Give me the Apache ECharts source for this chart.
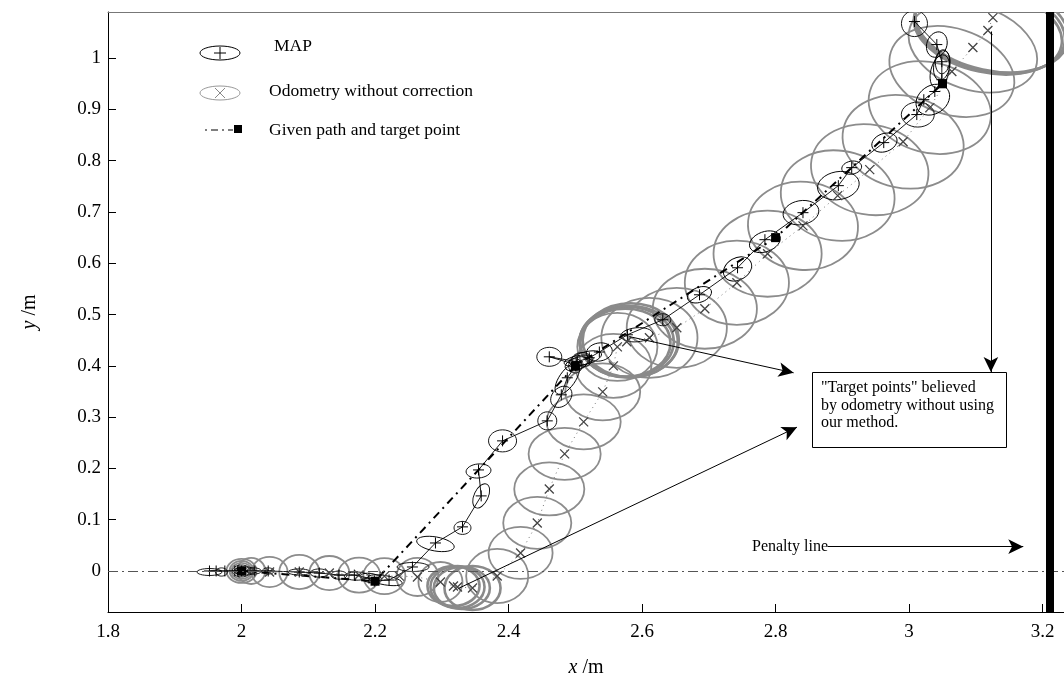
<!DOCTYPE html>
<html>
<head>
<meta charset="utf-8">
<script src="https://cdn.jsdelivr.net/npm/echarts@6/dist/echarts.min.js"></script>
<style>
  html, body { margin: 0; padding: 0; background: #fff; }
  #chart { width: 1064px; height: 684px; }
</style>
</head>
<body>
<div id="chart"></div>
<script>
// ---------------- data ----------------
var xTicks = [1.8, 2, 2.2, 2.4, 2.6, 2.8, 3, 3.2];
var yTicks = [0, 0.1, 0.2, 0.3, 0.4, 0.5, 0.6, 0.7, 0.8, 0.9, 1];

// MAP estimate (x, y)
var mapPath = [
  [1.952, 0], [1.962, 0], [1.975, 0], [1.99, 0], [2.0, 0], [2.019, 0], [2.04, 0],
  [2.0865, -0.002], [2.1165, -0.004], [2.146, -0.008], [2.169, -0.008], [2.191, -0.014],
  [2.199, -0.0195], [2.221, -0.0176], [2.256, 0.0078], [2.2905, 0.0546], [2.331, 0.086],
  [2.359, 0.1464], [2.355, 0.197], [2.391, 0.2537], [2.458, 0.2927], [2.479, 0.3435],
  [2.488, 0.3767], [2.502, 0.402], [2.461, 0.4176], [2.503, 0.408], [2.521, 0.4157],
  [2.536, 0.427], [2.578, 0.4606], [2.631, 0.4899], [2.686, 0.5386], [2.743, 0.5913],
  [2.784, 0.646], [2.841, 0.6987], [2.894, 0.7514], [2.914, 0.7865], [2.962, 0.8353],
  [3.0115, 0.89], [3.022, 0.919], [3.0385, 0.935], [3.049, 0.958], [3.049, 0.993],
  [3.0415, 1.0265], [3.008, 1.0714]
];

// MAP covariance ellipses: cx, cy, semi-axis x (m), semi-axis y (m), angle (deg)
var mapEllipses = [
  [1.952, -0.002, 0.0187, 0.0068, 0], [1.97, -0.002, 0.009, 0.008, 0],
  [2.0, 0, 0.0135, 0.0117, 0], [2.0, 0, 0.009, 0.008, 0], [2.005, 0, 0.0165, 0.008, 0],
  [2.019, 0, 0.0105, 0.006, 0], [2.04, 0, 0.009, 0.006, 0], [2.0865, -0.002, 0.0165, 0.006, 0],
  [2.1165, -0.004, 0.0135, 0.008, 0], [2.146, -0.008, 0.012, 0.008, 0], [2.172, -0.01, 0.018, 0.008, 0],
  [2.194, -0.014, 0.0165, 0.009, -10], [2.215, -0.018, 0.026, 0.009, -10],
  [2.257, 0.0078, 0.024, 0.0088, 0], [2.2905, 0.0527, 0.0285, 0.0137, -10],
  [2.331, 0.084, 0.0127, 0.0127, 0], [2.359, 0.1464, 0.0195, 0.0137, 65],
  [2.355, 0.195, 0.0187, 0.0137, 5], [2.391, 0.2537, 0.021, 0.0215, 0],
  [2.458, 0.2927, 0.0142, 0.0176, 0], [2.479, 0.3396, 0.018, 0.0176, 45],
  [2.488, 0.3747, 0.027, 0.0156, 55], [2.461, 0.4176, 0.0187, 0.0185, 0],
  [2.502, 0.404, 0.018, 0.012, 20], [2.505, 0.41, 0.022, 0.01, 10], [2.51, 0.412, 0.015, 0.014, 0],
  [2.515, 0.415, 0.025, 0.012, 15], [2.5, 0.4, 0.01, 0.014, 0],
  [2.536, 0.427, 0.0195, 0.0176, 10], [2.592, 0.4606, 0.024, 0.0137, 5],
  [2.631, 0.4899, 0.012, 0.0117, 0], [2.686, 0.5386, 0.0187, 0.0146, 20],
  [2.743, 0.589, 0.0225, 0.0215, 30], [2.784, 0.642, 0.024, 0.0195, 20],
  [2.838, 0.6987, 0.027, 0.0234, 10], [2.894, 0.7514, 0.0315, 0.0273, 10],
  [2.914, 0.7865, 0.015, 0.0127, 10], [2.963, 0.8353, 0.0195, 0.0176, 20],
  [3.013, 0.89, 0.0247, 0.0244, 0], [3.0355, 0.919, 0.027, 0.0273, 35],
  [3.046, 0.974, 0.0255, 0.0176, 75], [3.049, 0.9856, 0.0225, 0.0156, 80],
  [3.05, 0.993, 0.018, 0.0137, 85], [3.0415, 1.0265, 0.0195, 0.0195, 70],
  [3.008, 1.0675, 0.0195, 0.0254, 0]
];

// odometry without correction (x, y)
var odoPath = [
  [2.0, 0], [2.0145, 0], [2.042, -0.002], [2.0865, -0.002], [2.1315, -0.004], [2.176, -0.008],
  [2.214, -0.01], [2.2365, -0.01], [2.2635, -0.0117], [2.298, -0.0215], [2.3175, -0.0293],
  [2.3235, -0.0312], [2.346, -0.0332], [2.383, -0.0098], [2.418, 0.0351], [2.443, 0.0937],
  [2.461, 0.16], [2.484, 0.2283], [2.5125, 0.2908], [2.541, 0.3493], [2.557, 0.4],
  [2.563, 0.437], [2.577, 0.447], [2.611, 0.4547], [2.652, 0.4742], [2.694, 0.5113],
  [2.742, 0.562], [2.788, 0.6187], [2.841, 0.673], [2.893, 0.732], [2.941, 0.7826],
  [2.991, 0.837], [3.031, 0.9036], [3.064, 0.974], [3.0955, 1.0207], [3.118, 1.054],
  [3.1255, 1.079]
];

// odometry covariance ellipses: cx, cy, semi-axis x (m), semi-axis y (m), angle (deg)
var odoEllipses = [
  [2.0, 0, 0.0225, 0.0234, 0], [2.0, 0, 0.018, 0.0195, 0], [2.0, 0, 0.015, 0.0156, 0],
  [2.0145, 0, 0.021, 0.0254, 0], [2.042, -0.002, 0.027, 0.0293, 0], [2.0865, -0.002, 0.03, 0.0332, 0],
  [2.1315, -0.004, 0.03, 0.0332, 0], [2.176, -0.008, 0.0315, 0.0342, 0], [2.214, -0.01, 0.0315, 0.0351, 0],
  [2.2635, -0.0117, 0.0315, 0.0371, 0], [2.298, -0.0215, 0.033, 0.039, 0],
  [2.383, -0.0098, 0.0465, 0.0527, 0], [2.418, 0.0351, 0.048, 0.0507, 0],
  [2.443, 0.0937, 0.051, 0.0507, 0], [2.461, 0.16, 0.0525, 0.0517, 0], [2.484, 0.2283, 0.054, 0.0507, 0],
  [2.5125, 0.2908, 0.0555, 0.0537, 0], [2.541, 0.3493, 0.0562, 0.0556, 0], [2.557, 0.4, 0.057, 0.0625, 0],
  [2.563, 0.437, 0.06, 0.0664, 0], [2.611, 0.4547, 0.072, 0.078, 0], [2.652, 0.4742, 0.075, 0.078, 0],
  [2.694, 0.5113, 0.078, 0.078, 0], [2.742, 0.562, 0.078, 0.082, 0], [2.788, 0.6187, 0.081, 0.084, 0],
  [2.841, 0.673, 0.0825, 0.0859, -5], [2.893, 0.732, 0.0855, 0.0878, -8], [2.941, 0.7826, 0.0885, 0.0878, -10],
  [2.991, 0.837, 0.0915, 0.0898, -12], [3.031, 0.9036, 0.093, 0.0878, -15], [3.064, 0.974, 0.096, 0.0839, -18],
  [3.0955, 1.0207, 0.099, 0.082, -18]
];

// odometry ellipses where the robot stopped at its believed target points
var odoStopEllipses = [
  [2.3175, -0.0293, 0.039, 0.039, 0], [2.3235, -0.0312, 0.0405, 0.041, 0],
  [2.33, -0.033, 0.042, 0.041, 0], [2.346, -0.0332, 0.042, 0.043, 0],
  [2.577, 0.447, 0.0705, 0.0683, 0], [2.58, 0.447, 0.0735, 0.0703, 0],
  [2.575, 0.445, 0.0675, 0.0664, 0], [2.583, 0.45, 0.072, 0.072, 0],
  [3.118, 1.054, 0.1125, 0.082, -12], [3.121, 1.058, 0.114, 0.084, -12],
  [3.124, 1.062, 0.116, 0.086, -12]
];

// given path and target points
var givenPath = [[2.0, 0], [2.2, -0.02], [2.5, 0.4], [2.8, 0.65], [3.05, 0.95]];

var penaltyX = 3.2055;

// annotation arrows: [from, to]
var arrows = [
  [[2.581, 0.457], [2.827, 0.3864]],
  [[2.325, -0.034], [2.832, 0.2804]],
  [[3.1225, 1.052], [3.1225, 0.388]],
  [[2.878, 0.0474], [3.171, 0.0474]]
];

// ---------------- chart ----------------
var chart_dom = document.getElementById("chart");
var chart = echarts.init(chart_dom);

var FONT = '"Liberation Serif", "Times New Roman", serif';

function ellipse_item(color, width) {
    return function (params, api) {
        var c = api.coord([api.value(0), api.value(1)]);
        var s = api.size([api.value(2), api.value(3)]);
        return {
            type: 'ellipse',
            x: c[0],
            y: c[1],
            rotation: api.value(4) * Math.PI / 180,
            shape: {cx: 0, cy: 0, rx: s[0], ry: s[1]},
            style: {fill: null, stroke: color, lineWidth: width},
            silent: true
        };
    };
}

function fmt(v) {
    return String(+(+v).toFixed(2));
}

var legendText = {font: '17.5px ' + FONT, fill: '#000', verticalAlign: 'middle', textVerticalAlign: 'middle'};

chart.setOption({
    animation: false,
    backgroundColor: '#fff',
    grid: {left: 108, right: 0, top: 12, bottom: 72, outerBoundsMode: 'none', containLabel: false},
    xAxis: [
        {
            type: 'value',
            min: 1.8,
            max: 3.232,
            name: '{i|x} /m',
            nameLocation: 'middle',
            nameGap: 46,
            nameTextStyle: {
                fontFamily: FONT, fontSize: 20, color: '#000',
                rich: {i: {fontFamily: FONT, fontSize: 20, fontStyle: 'italic', color: '#000'}}
            },
            axisLine: {onZero: false, lineStyle: {color: '#000', width: 1}},
            axisTick: {inside: true, length: 8, customValues: xTicks, lineStyle: {color: '#000'}},
            axisLabel: {customValues: xTicks, formatter: fmt, fontFamily: FONT, fontSize: 19, color: '#000', margin: 11},
            splitLine: {show: false}
        },
        {
            type: 'value',
            position: 'top',
            min: 1.8,
            max: 3.232,
            axisLine: {show: true, onZero: false, lineStyle: {color: '#777', width: 1}},
            axisTick: {show: false},
            axisLabel: {show: false},
            splitLine: {show: false}
        }
    ],
    yAxis: {
        type: 'value',
        min: -0.08,
        max: 1.09,
        name: '{i|y} /m',
        nameLocation: 'middle',
        nameGap: 68,
        nameTextStyle: {
            fontFamily: FONT, fontSize: 20, color: '#000',
            rich: {i: {fontFamily: FONT, fontSize: 20, fontStyle: 'italic', color: '#000'}}
        },
        axisLine: {show: true, onZero: false, lineStyle: {color: '#000', width: 1}},
        axisTick: {show: true, inside: true, length: 8, customValues: yTicks, lineStyle: {color: '#000'}},
        axisLabel: {customValues: yTicks, formatter: fmt, fontFamily: FONT, fontSize: 19, color: '#000', margin: 7},
        splitLine: {show: false}
    },
    series: [
        {
            name: 'reference lines',
            type: 'line',
            data: [],
            silent: true,
            markLine: {
                silent: true,
                symbol: 'none',
                label: {show: false},
                data: [
                    {yAxis: 0, lineStyle: {color: '#555', width: 1, type: [10, 4, 2, 4]}},
                    {xAxis: penaltyX, lineStyle: {color: '#000', width: 8, type: 'solid'}}
                ]
            }
        },
        {
            name: 'Odometry ellipses',
            type: 'custom',
            renderItem: ellipse_item('#8c8c8c', 1.8),
            data: odoEllipses,
            encode: {x: 0, y: 1},
            clip: true,
            silent: true
        },
        {
            name: 'Odometry stop ellipses',
            type: 'custom',
            renderItem: ellipse_item('#8a8a8a', 2.6),
            data: odoStopEllipses,
            encode: {x: 0, y: 1},
            clip: true,
            silent: true
        },
        {
            name: 'Odometry without correction',
            type: 'line',
            data: odoPath,
            symbol: 'path://M0,0L10,10M0,10L10,0',
            symbolSize: 9,
            showAllSymbol: true,
            itemStyle: {color: 'transparent', borderColor: '#444', borderWidth: 1.3},
            lineStyle: {color: '#777', width: 1, type: [1, 4]},
            silent: true
        },
        {
            name: 'Given path and target point',
            type: 'line',
            data: givenPath,
            symbol: 'rect',
            symbolSize: 9,
            itemStyle: {color: '#000'},
            lineStyle: {color: '#000', width: 2, type: [8, 5, 2, 5]},
            silent: true
        },
        {
            name: 'MAP ellipses',
            type: 'custom',
            renderItem: ellipse_item('#000', 0.9),
            data: mapEllipses,
            encode: {x: 0, y: 1},
            clip: true,
            silent: true
        },
        {
            name: 'MAP',
            type: 'line',
            data: mapPath,
            symbol: 'path://M5,0L5,10M0,5L10,5',
            symbolSize: 11,
            showAllSymbol: true,
            itemStyle: {color: 'transparent', borderColor: '#000', borderWidth: 1},
            lineStyle: {color: '#000', width: 0.9},
            silent: true
        },
        {
            name: 'annotations',
            type: 'line',
            data: [],
            silent: true,
            markLine: {
                silent: true,
                symbol: ['none', 'arrow'],
                symbolSize: [11, 15],
                label: {show: false},
                lineStyle: {color: '#000', width: 1, type: 'solid'},
                data: arrows.map(function (a) {
                    return [{coord: a[0]}, {coord: a[1]}];
                })
            }
        }
    ],
    graphic: [
        // legend
        {type: 'ellipse', shape: {cx: 220, cy: 53, rx: 20, ry: 7}, style: {fill: null, stroke: '#000', lineWidth: 1}},
        {type: 'line', shape: {x1: 214, y1: 53, x2: 226, y2: 53}, style: {stroke: '#000', lineWidth: 1}},
        {type: 'line', shape: {x1: 220, y1: 47, x2: 220, y2: 59}, style: {stroke: '#000', lineWidth: 1}},
        {type: 'text', x: 274, y: 46, style: Object.assign({text: 'MAP'}, legendText)},
        {type: 'ellipse', shape: {cx: 220, cy: 93, rx: 20, ry: 7}, style: {fill: null, stroke: '#999', lineWidth: 1}},
        {type: 'line', shape: {x1: 215, y1: 88, x2: 225, y2: 98}, style: {stroke: '#888', lineWidth: 1}},
        {type: 'line', shape: {x1: 215, y1: 98, x2: 225, y2: 88}, style: {stroke: '#888', lineWidth: 1}},
        {type: 'text', x: 269, y: 91, style: Object.assign({text: 'Odometry without correction'}, legendText)},
        {type: 'line', shape: {x1: 205, y1: 130, x2: 233, y2: 130}, style: {stroke: '#000', lineWidth: 1.2, lineDash: [2, 4, 7, 4]}},
        {type: 'rect', shape: {x: 234, y: 125, width: 8, height: 8}, style: {fill: '#000'}},
        {type: 'text', x: 269, y: 130, style: Object.assign({text: 'Given path and target point'}, legendText)},
        // annotation box
        {type: 'rect', z: 100, shape: {x: 812.5, y: 372.5, width: 194, height: 75}, style: {fill: '#fff', stroke: '#000', lineWidth: 1}},
        {type: 'text', z: 101, x: 821, y: 388, style: {text: '"Target points" believed', font: '16px ' + FONT, fill: '#000', verticalAlign: 'middle', textVerticalAlign: 'middle'}},
        {type: 'text', z: 101, x: 821, y: 405.5, style: {text: 'by odometry without using', font: '16px ' + FONT, fill: '#000', verticalAlign: 'middle', textVerticalAlign: 'middle'}},
        {type: 'text', z: 101, x: 821, y: 423, style: {text: 'our method.', font: '16px ' + FONT, fill: '#000', verticalAlign: 'middle', textVerticalAlign: 'middle'}},
        {type: 'text', z: 101, x: 752, y: 547, style: {text: 'Penalty line', font: '16px ' + FONT, fill: '#000', verticalAlign: 'middle', textVerticalAlign: 'middle'}}
    ]
});
</script>
</body>
</html>
